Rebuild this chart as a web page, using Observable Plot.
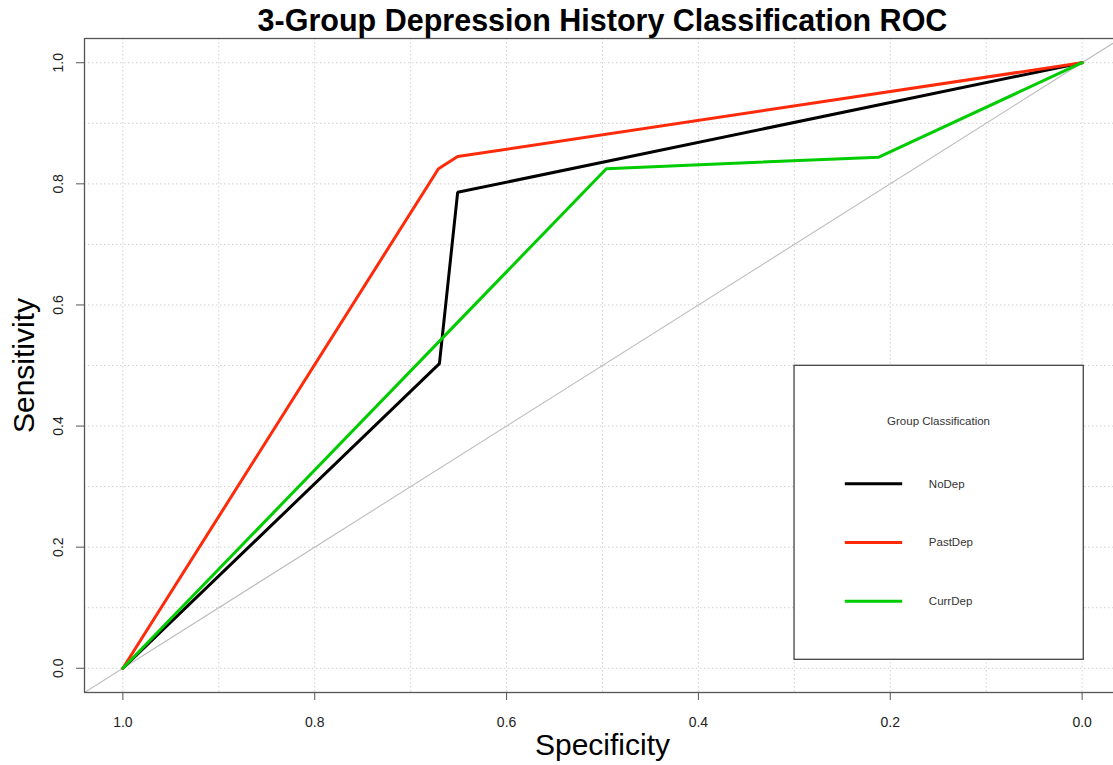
<!DOCTYPE html>
<html>
<head>
<meta charset="utf-8">
<script src="https://cdn.jsdelivr.net/npm/d3@7"></script>
<script src="https://cdn.jsdelivr.net/npm/@observablehq/plot@0.6"></script>
<style>
  html, body { margin: 0; padding: 0; background: #fff; overflow: hidden; }
  #chart { width: 1113px; height: 765px; overflow: hidden; }
  #chart svg { max-width: none !important; height: 765px !important; font-family: "Liberation Sans", Arial, Helvetica, sans-serif; }
</style>
</head>
<body>
<div id="chart"></div>
<script>
// ----- data -----
const groups = ["NoDep", "PastDep", "CurrDep"];
const groupColors = ["#000000", "#ff2a0a", "#00cc00"];
const noDepSpec = [1.0, 0.670, 0.651, 0.0];
const noDepSens = [0.0, 0.503, 0.786, 1.0];
const pastDepSpec = [1.0, 0.671, 0.651, 0.0];
const pastDepSens = [0.0, 0.825, 0.845, 1.0];
const currDepSpec = [1.0, 0.496, 0.212, 0.0];
const currDepSens = [0.0, 0.825, 0.844, 1.0];
const tickValues = [0.0, 0.2, 0.4, 0.6, 0.8, 1.0];
const gridValues = [0.0, 0.1, 0.2, 0.3, 0.4, 0.5, 0.6, 0.7, 0.8, 0.9, 1.0];
const titleText = "3-Group Depression History Classification ROC";
const xLabel = "Specificity";
const yLabel = "Sensitivity";
const legendTitle = "Group Classification";

// build table
const specs = [noDepSpec, pastDepSpec, currDepSpec];
const senss = [noDepSens, pastDepSens, currDepSens];
const rows = [];
groups.forEach((g, i) => {
  specs[i].forEach((s, j) => rows.push({group: g, spec: s, sens: senss[i][j]}));
});

const xDomain = [1.04, -0.04];
const yDomain = [-0.04, 1.04];
const diag = xDomain.map(s => ({spec: s, sens: 1 - s}));

// legend layout (data coordinates inside the plot)
const legendRows = groups.map((g, i) => ({group: g, color: groupColors[i], yy: [0.3046, 0.2077, 0.1108][i]}));

const chart = Plot.plot({
  width: 1130,
  height: 765,
  marginLeft: 84,
  marginRight: 10,
  marginTop: 38,
  marginBottom: 73,
  x: {domain: xDomain},
  y: {domain: yDomain},
  style: {fontFamily: "Liberation Sans, Arial, sans-serif", background: "#fff", maxWidth: "none"},
  marks: [
    Plot.gridX(gridValues, {stroke: "#d0d0d0", strokeOpacity: 1, strokeDasharray: "1.5,2.5", strokeWidth: 1}),
    Plot.gridY(gridValues, {stroke: "#d0d0d0", strokeOpacity: 1, strokeDasharray: "1.5,2.5", strokeWidth: 1}),
    Plot.line(diag, {x: "spec", y: "sens", stroke: "#bdbdbd", strokeWidth: 1.1, clip: true}),
    Plot.line(rows, {x: "spec", y: "sens", z: "group",
      stroke: d => groupColors[groups.indexOf(d.group)], strokeWidth: 3, strokeLinejoin: "miter"}),
    // legend box
    Plot.rect([0], {x1: 0.2998, x2: -0.0017, y1: 0.014, y2: 0.4995, fill: "#fff", stroke: "#444", strokeWidth: 1.3}),
    Plot.text([legendTitle], {x: 0.1497, y: 0.4075, text: d => d, fontSize: 11.5, fill: "#333", textAnchor: "middle"}),
    Plot.link(legendRows, {x1: 0.2474, x2: 0.1876, y1: "yy", y2: "yy", stroke: "color", strokeWidth: 3}),
    Plot.text(legendRows, {x: 0.1598, y: "yy", text: "group", fontSize: 11.5, fill: "#333", textAnchor: "start"}),
    // axes
    Plot.axisX({ticks: tickValues, tickFormat: d3.format(".1f"), tickSize: 8, tickPadding: 17, fontSize: 14, label: null, stroke: "#555", color: "#222"}),
    Plot.axisY({ticks: tickValues, tickFormat: d3.format(".1f"), tickSize: 8, tickPadding: 14, tickRotate: -90, fontSize: 14, label: null, stroke: "#555", color: "#222"}),
    Plot.frame({stroke: "#555", strokeWidth: 1.3}),
    // titles
    Plot.text([titleText], {frameAnchor: "top", text: d => d, dy: -8, lineAnchor: "bottom", textAnchor: "middle", fontSize: 30.5, fontWeight: "bold", fill: "#000"}),
    Plot.text([xLabel], {frameAnchor: "bottom", text: d => d, dy: 62, lineAnchor: "bottom", textAnchor: "middle", fontSize: 30, fill: "#000"}),
    Plot.text([yLabel], {frameAnchor: "left", text: d => d, dx: -51, rotate: -90, lineAnchor: "bottom", textAnchor: "middle", fontSize: 30, fill: "#000"})
  ]
});
document.getElementById("chart").appendChild(chart);
</script>
</body>
</html>
